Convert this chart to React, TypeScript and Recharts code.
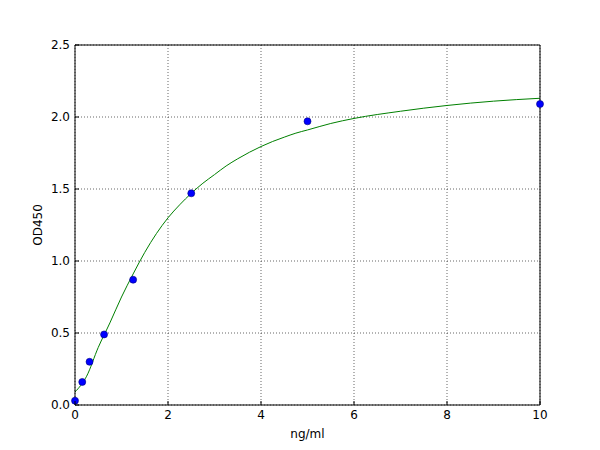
import React from 'react';
import {
    ComposedChart,
    Line,
    Scatter,
    XAxis,
    YAxis,
    CartesianGrid,
} from 'recharts';

// standards (ng/ml) and measured OD450
const stdConc = [0, 0.156, 0.3125, 0.625, 1.25, 2.5, 5, 10];
const stdOd = [0.03, 0.16, 0.3, 0.49, 0.87, 1.47, 1.97, 2.09];

// fitted curve
const fitConc = [0, 0.25, 0.5, 0.75, 1, 1.25, 1.5, 1.75, 2, 2.25, 2.5, 2.75, 3, 3.25, 3.5, 3.75, 4, 4.25, 4.5, 4.75, 5, 5.5, 6, 7, 8, 9, 10];
const fitOd = [0.09, 0.2, 0.4, 0.57, 0.75, 0.91, 1.06, 1.19, 1.3, 1.39, 1.47, 1.54, 1.6, 1.66, 1.71, 1.755, 1.795, 1.83, 1.86, 1.888, 1.91, 1.955, 1.99, 2.04, 2.08, 2.11, 2.13];

const xTicks = [0, 2, 4, 6, 8, 10];
const yTicks = [0, 0.5, 1, 1.5, 2, 2.5];

const points = stdConc.map((x, i) => ({x, y: stdOd[i]}));
const curve = fitConc.map((x, i) => ({x, y: fitOd[i]}));

const FONT = '"DejaVu Sans", sans-serif';

const BottomTick = (props: any) => {
    const {x, y, payload} = props;
    return (
        <g>
            <line x1={x} y1={y} x2={x} y2={y - 4} stroke='#000' />
            <text x={x} y={y + 14} textAnchor='middle' fontSize={12} fontFamily={FONT} fill='#000'>
                {payload.value}
            </text>
        </g>
    );
};

const LeftTick = (props: any) => {
    const {x, y, payload} = props;
    return (
        <g>
            <line x1={x} y1={y} x2={x + 4} y2={y} stroke='#000' />
            <text x={x - 5} y={y + 4} textAnchor='end' fontSize={12} fontFamily={FONT} fill='#000'>
                {Number(payload.value).toFixed(1)}
            </text>
        </g>
    );
};

const TopTick = (props: any) => {
    const {x, y} = props;
    return <line x1={x} y1={y} x2={x} y2={y + 4} stroke='#000' />;
};

const RightTick = (props: any) => {
    const {x, y} = props;
    return <line x1={x} y1={y} x2={x - 4} y2={y} stroke='#000' />;
};

const App: React.FC = () => {
    return (
        <div style={{position: 'absolute', left: 0, top: 0, background: '#fff'}}>
            <ComposedChart width={600} height={450} margin={{top: 44, right: 59, bottom: 0, left: 0}}>
                <CartesianGrid
                    xAxisId='b'
                    yAxisId='l'
                    stroke='#000'
                    strokeWidth={0.6}
                    strokeDasharray='1 2'
                />
                <XAxis
                    xAxisId='b'
                    type='number'
                    dataKey='x'
                    domain={[0, 10]}
                    ticks={xTicks}
                    height={45}
                    tickSize={0}
                    tickMargin={0}
                    tickLine={false}
                    axisLine={{stroke: '#000'}}
                    tick={<BottomTick />}
                    label={{value: 'ng/ml', position: 'insideBottom', offset: 12, fontSize: 12, fontFamily: FONT, fill: '#000'}}
                />
                <XAxis
                    xAxisId='t'
                    orientation='top'
                    type='number'
                    dataKey='x'
                    domain={[0, 10]}
                    ticks={xTicks}
                    height={1}
                    tickSize={0}
                    tickMargin={0}
                    tickLine={false}
                    axisLine={{stroke: '#000'}}
                    tick={<TopTick />}
                />
                <YAxis
                    yAxisId='l'
                    type='number'
                    domain={[0, 2.5]}
                    ticks={yTicks}
                    width={75}
                    tickSize={0}
                    tickMargin={0}
                    tickLine={false}
                    axisLine={{stroke: '#000'}}
                    tick={<LeftTick />}
                    label={{
                        content: (p: any) => {
                            const vb = p.viewBox;
                            const cy = vb.y + vb.height / 2;
                            return (
                                <text
                                    x={38}
                                    y={cy}
                                    transform={`rotate(-90 38 ${cy})`}
                                    textAnchor='middle'
                                    dominantBaseline='central'
                                    fontSize={12}
                                    fontFamily={FONT}
                                    fill='#000'
                                >
                                    OD450
                                </text>
                            );
                        },
                    }}
                />
                <YAxis
                    yAxisId='r'
                    orientation='right'
                    type='number'
                    domain={[0, 2.5]}
                    ticks={yTicks}
                    width={1}
                    tickSize={0}
                    tickMargin={0}
                    tickLine={false}
                    axisLine={{stroke: '#000'}}
                    tick={<RightTick />}
                />
                <Line
                    xAxisId='b'
                    yAxisId='l'
                    data={curve}
                    dataKey='y'
                    type='monotone'
                    stroke='#008000'
                    strokeWidth={1}
                    dot={false}
                    isAnimationActive={false}
                />
                <Scatter
                    xAxisId='b'
                    yAxisId='l'
                    data={points}
                    dataKey='y'
                    isAnimationActive={false}
                    shape={(p: any) => (
                        <circle cx={p.cx} cy={p.cy} r={3.5} fill='#0000ff' stroke='#000080' strokeWidth={0.6} />
                    )}
                />
            </ComposedChart>
        </div>
    );
};

export default App;
